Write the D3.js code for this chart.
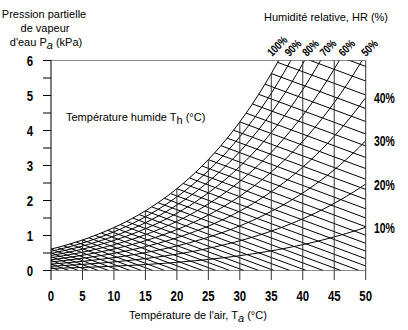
<!DOCTYPE html>
<html>
<head>
<meta charset="utf-8">
<script src="https://cdn.jsdelivr.net/npm/d3@7"></script>
<style>
  body { margin: 0; background: #fff; }
  svg { display: block; }
</style>
</head>
<body>
<div id="chart"></div>
<script>
// saturation vapour pressure of water (kPa), one value per degree from satStartT
const satStartT = -10;
const satPressure = [
  0.286, 0.310, 0.335, 0.362, 0.391, 0.422, 0.455, 0.490, 0.527, 0.568,
  0.611, 0.657, 0.706, 0.758, 0.813, 0.872, 0.935, 1.002, 1.073, 1.148,
  1.228, 1.312, 1.402, 1.497, 1.598, 1.705, 1.818, 1.938, 2.064, 2.197,
  2.338, 2.487, 2.644, 2.809, 2.985, 3.169, 3.363, 3.567, 3.782, 4.008,
  4.246, 4.496, 4.759, 5.034, 5.324, 5.628, 5.947, 6.281, 6.631, 6.999,
  7.384, 7.786, 8.208, 8.649, 9.111, 9.594, 10.099, 10.627, 11.177, 11.752,
  12.352
];
const rhLevels = [10, 20, 30, 40, 50, 60, 70, 80, 90, 100];
const wetBulbTemps = [-10, -9, -8, -7, -6, -5, -4, -3, -2, -1, 0, 1, 2, 3, 4, 5, 6, 7, 8, 9,
  10, 11, 12, 13, 14, 15, 16, 17, 18, 19, 20, 21, 22, 23, 24, 25, 26, 27, 28, 29,
  30, 31, 32, 33, 34, 35, 36, 37, 38];
const psychroK = 0.0667;   // psychrometric constant A*P, kPa per degree
const xTicks = [0, 5, 10, 15, 20, 25, 30, 35, 40, 45, 50];
const yTicks = [0, 1, 2, 3, 4, 5, 6];
const yMinorTicks = [0, 0.5, 1, 1.5, 2, 2.5, 3, 3.5, 4, 4.5, 5, 5.5, 6];
const topLabels = [100, 90, 80, 70, 60, 50];
const rightLabels = [40, 30, 20, 10];

const width = 408, height = 330;
const xScale = d3.scaleLinear().domain([0, 50]).range([51, 365.7]);
const yScale = d3.scaleLinear().domain([0, 6]).range([270.5, 60.5]);

const numFont = "'Liberation Sans', Arial, sans-serif";
const textFont = "'Liberation Sans', Arial, sans-serif";
const squeeze = 0.76;   // narrow look for the numerals

// saturation pressure at temperature t (linear between table entries)
function psat(t) {
  const i = Math.floor(t - satStartT);
  const f = t - satStartT - i;
  if (f === 0) return satPressure[i];
  return satPressure[i] + f * (satPressure[i + 1] - satPressure[i]);
}

const svg = d3.select("#chart").append("svg")
  .attr("width", width)
  .attr("height", height);

svg.append("defs").append("clipPath").attr("id", "plot")
  .append("rect")
  .attr("x", xScale(0)).attr("y", yScale(6))
  .attr("width", xScale(50) - xScale(0))
  .attr("height", yScale(0) - yScale(6));

// horizontal frame lines at 0 and 6 kPa
svg.selectAll(".hline")
  .data([0, 6])
  .enter().append("line")
  .attr("x1", 43).attr("x2", xScale(50))
  .attr("y1", d => yScale(d)).attr("y2", d => yScale(d))
  .style("stroke", "#8a8a8a")
  .style("stroke-width", 1.2);

const plot = svg.append("g").attr("clip-path", "url(#plot)");

// relative humidity curves
const curveTemps = satPressure.map((p, i) => satStartT + i).filter(t => t >= 0);
const rhLine = d3.line()
  .x(d => xScale(d[0]))
  .y(d => yScale(d[1]))
  .curve(d3.curveMonotoneX);

plot.selectAll(".rh")
  .data(rhLevels)
  .enter().append("path")
  .attr("d", rh => rhLine(curveTemps.map(t => [t, rh / 100 * psat(t)])))
  .style("fill", "none")
  .style("stroke", "#000")
  .style("stroke-width", 1);

// wet-bulb lines: from saturation at Tw down to zero vapour pressure
plot.selectAll(".wb")
  .data(wetBulbTemps)
  .enter().append("line")
  .attr("x1", tw => xScale(tw))
  .attr("y1", tw => yScale(psat(tw)))
  .attr("x2", tw => xScale(tw + psat(tw) / psychroK))
  .attr("y2", yScale(0))
  .style("stroke", "#000")
  .style("stroke-width", 1);

// vertical temperature lines, up to the saturation curve
svg.selectAll(".vline")
  .data(xTicks.slice(1))
  .enter().append("line")
  .attr("x1", d => xScale(d)).attr("x2", d => xScale(d))
  .attr("y1", 280)
  .attr("y2", d => yScale(Math.min(psat(d), 6)))
  .style("stroke", "#333")
  .style("stroke-width", 1);

// left axis
svg.append("line")
  .attr("x1", xScale(0)).attr("x2", xScale(0))
  .attr("y1", 280).attr("y2", yScale(6))
  .style("stroke", "#000")
  .style("stroke-width", 1);

svg.selectAll(".ytick")
  .data(yMinorTicks)
  .enter().append("line")
  .attr("x1", 43).attr("x2", xScale(0))
  .attr("y1", d => yScale(d)).attr("y2", d => yScale(d))
  .style("stroke", "#000")
  .style("stroke-width", 1);

function numLabel(sel, size) {
  return sel.style("font-family", numFont)
    .style("font-size", size + "px")
    .style("font-weight", "700");
}

numLabel(svg.selectAll(".ylab")
  .data(yTicks)
  .enter().append("text")
  .attr("transform", d => `translate(33,${yScale(d) + 5.5}) scale(${squeeze},1)`)
  .attr("text-anchor", "end"), 15)
  .text(d => d);

numLabel(svg.selectAll(".xlab")
  .data(xTicks)
  .enter().append("text")
  .attr("transform", d => `translate(${xScale(d)},301) scale(${squeeze},1)`)
  .attr("text-anchor", "middle"), 15)
  .text(d => d);

// RH labels on the right edge (at 50 degrees)
numLabel(svg.selectAll(".rlab")
  .data(rightLabels)
  .enter().append("text")
  .attr("transform", d => `translate(374,${yScale(d / 100 * psat(50)) + 5.5}) scale(0.72,1)`), 14.5)
  .text(d => d + "%");

// RH labels along the top, near where each curve meets 6 kPa
function crossTop(rh) {
  let t = 0;
  while (t < 50 && rh / 100 * psat(t + 0.1) < 6) t += 0.1;
  return t;
}
const topPos = [];
topLabels.slice().reverse().forEach((rh, i) => {
  let px = xScale(crossTop(rh)) + 4;
  if (i > 0) px = Math.min(px, topPos[i - 1] - 17.5);
  topPos.push(px);
});
topPos.reverse();

numLabel(svg.selectAll(".tlab")
  .data(topLabels)
  .enter().append("text")
  .attr("transform", (d, i) => `translate(${topPos[i]},57) rotate(-45) scale(0.78,1)`), 11.5)
  .text(d => d + "%");

// titles
const yTitle = svg.append("text")
  .attr("text-anchor", "middle")
  .style("font-family", textFont)
  .style("font-size", "11px");
yTitle.append("tspan").attr("x", 44).attr("y", 18).text("Pression partielle");
yTitle.append("tspan").attr("x", 45).attr("y", 32).text("de vapeur");
yTitle.append("tspan").attr("x", 46).attr("y", 46).text("d'eau P");
yTitle.append("tspan").attr("dy", 3).style("font-style", "italic").text("a");
yTitle.append("tspan").attr("dy", -3).text(" (kPa)");

svg.append("text")
  .attr("x", 326).attr("y", 21)
  .attr("text-anchor", "middle")
  .style("font-family", textFont)
  .style("font-size", "11px")
  .text("Humidité relative, HR (%)");

const wbTitle = svg.append("text")
  .attr("x", 66).attr("y", 121)
  .style("font-family", textFont)
  .style("font-size", "11px");
wbTitle.append("tspan").text("Température humide T");
wbTitle.append("tspan").attr("dy", 3).text("h");
wbTitle.append("tspan").attr("dy", -3).text(" (°C)");

const xTitle = svg.append("text")
  .attr("x", 198).attr("y", 319)
  .attr("text-anchor", "middle")
  .style("font-family", textFont)
  .style("font-size", "11px");
xTitle.append("tspan").text("Température de l'air, T");
xTitle.append("tspan").attr("dy", 3).style("font-style", "italic").text("a");
xTitle.append("tspan").attr("dy", -3).text(" (°C)");
</script>
</body>
</html>
